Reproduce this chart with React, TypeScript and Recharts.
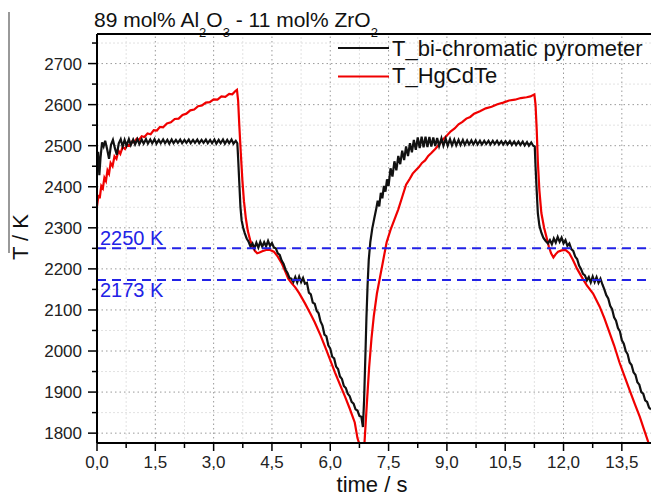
import React from 'react';
import { LineChart, Line, XAxis, YAxis, ReferenceLine, Legend } from 'recharts';

// ---------- axis values ----------
const xDomain: [number, number] = [0, 14.25];
const yDomain: [number, number] = [1776, 2772];
const xMajorTicks = [0, 1.5, 3, 4.5, 6, 7.5, 9, 10.5, 12, 13.5];
const xMinorTicks = [0.75, 2.25, 3.75, 5.25, 6.75, 8.25, 9.75, 11.25, 12.75];
const yMajorTicks = [1800, 1900, 2000, 2100, 2200, 2300, 2400, 2500, 2600, 2700];
const yMinorTicks = [1850, 1950, 2050, 2150, 2250, 2350, 2450, 2550, 2650, 2750];
const markLevels = [2250, 2173];
const markLabels = ['2250 K', '2173 K'];
const seriesNames = ['T_bi-chromatic pyrometer', 'T_HgCdTe'];

// ---------- T_bi-chromatic pyrometer [time s, T K] ----------
const pyroHeat1: [number, number][] = [
  [0.0, 2440], [0.03, 2485], [0.06, 2428], [0.09, 2470], [0.13, 2508], [0.17, 2498], [0.21, 2512], [0.26, 2492],
  [0.31, 2468], [0.36, 2502], [0.41, 2514], [0.46, 2494], [0.51, 2478], [0.56, 2506], [0.61, 2516], [0.66, 2498],
  [0.71, 2514], [0.76, 2500], [0.82, 2516], [0.87, 2502], [0.93, 2515], [0.98, 2503], [1.04, 2516], [1.09, 2504],
  [1.15, 2515], [1.2, 2505], [1.26, 2516], [1.31, 2505], [1.37, 2515], [1.42, 2506], [1.48, 2516], [1.53, 2505],
  [1.59, 2514], [1.64, 2506], [1.7, 2515], [1.75, 2506], [1.81, 2514], [1.86, 2505], [1.92, 2515], [1.97, 2506],
  [2.03, 2514], [2.08, 2507], [2.14, 2515], [2.19, 2506], [2.25, 2514], [2.3, 2507], [2.36, 2515], [2.41, 2506],
  [2.47, 2514], [2.52, 2507], [2.58, 2515], [2.63, 2506], [2.69, 2514], [2.74, 2507], [2.8, 2515], [2.85, 2506],
  [2.91, 2514], [2.96, 2506], [3.02, 2515], [3.07, 2505], [3.13, 2514], [3.18, 2506], [3.24, 2515], [3.29, 2505],
  [3.35, 2514], [3.4, 2506], [3.46, 2515], [3.51, 2505], [3.57, 2512], [3.61, 2506],
];
const pyroCool1: [number, number][] = [
  [3.63, 2470], [3.66, 2410], [3.69, 2350], [3.72, 2318], [3.76, 2300], [3.8, 2287], [3.85, 2274], [3.9, 2266],
  [3.95, 2254], [4.0, 2262], [4.05, 2250], [4.1, 2264], [4.15, 2252], [4.2, 2266], [4.25, 2254], [4.3, 2265],
  [4.35, 2255], [4.4, 2268], [4.45, 2256], [4.5, 2263], [4.55, 2252], [4.6, 2250], [4.65, 2238], [4.7, 2234],
  [4.75, 2220], [4.8, 2212], [4.85, 2198], [4.9, 2190], [4.95, 2178], [5.0, 2176], [5.05, 2168], [5.1, 2180],
  [5.15, 2167], [5.2, 2181], [5.25, 2168], [5.3, 2178], [5.35, 2164], [5.4, 2166], [5.45, 2142], [5.5, 2138],
  [5.55, 2118], [5.6, 2115], [5.65, 2098], [5.7, 2092], [5.75, 2072], [5.8, 2062], [5.85, 2040], [5.9, 2036],
  [5.95, 2014], [6.0, 2006], [6.05, 1986], [6.1, 1982], [6.15, 1962], [6.2, 1956], [6.25, 1938], [6.3, 1932],
  [6.35, 1915], [6.4, 1910], [6.45, 1896], [6.5, 1890], [6.55, 1876], [6.6, 1872], [6.65, 1858], [6.7, 1855],
  [6.75, 1842], [6.8, 1840], [6.84, 1815],
];
const pyroHeat2: [number, number][] = [
  [6.87, 1880], [6.89, 1945], [6.91, 2010], [6.93, 2080], [6.96, 2160], [6.99, 2222], [7.03, 2265], [7.08, 2298],
  [7.13, 2322], [7.18, 2345], [7.22, 2366], [7.26, 2352], [7.3, 2385], [7.34, 2372], [7.38, 2402], [7.42, 2388],
  [7.46, 2418], [7.5, 2402], [7.55, 2445], [7.6, 2425], [7.65, 2462], [7.7, 2440], [7.75, 2475], [7.8, 2455],
  [7.85, 2488], [7.9, 2465], [7.95, 2498], [8.0, 2475], [8.05, 2506], [8.1, 2484], [8.15, 2514], [8.2, 2490],
  [8.25, 2520], [8.3, 2494], [8.35, 2522], [8.4, 2496], [8.45, 2522], [8.5, 2497], [8.55, 2521], [8.6, 2498],
  [8.65, 2520], [8.7, 2499], [8.75, 2519], [8.8, 2499], [8.86, 2518], [8.91, 2500], [8.97, 2517], [9.02, 2500],
  [9.08, 2516], [9.13, 2501], [9.19, 2515], [9.24, 2501], [9.3, 2514], [9.35, 2502], [9.41, 2514], [9.46, 2502],
  [9.52, 2513], [9.57, 2503], [9.63, 2513], [9.68, 2503], [9.74, 2513], [9.79, 2503], [9.85, 2512], [9.9, 2503],
  [9.96, 2512], [10.01, 2504], [10.07, 2512], [10.12, 2503], [10.18, 2512], [10.23, 2504], [10.29, 2512], [10.34, 2503],
  [10.4, 2511], [10.45, 2503], [10.51, 2511], [10.56, 2503], [10.62, 2511], [10.67, 2502], [10.73, 2510], [10.78, 2502],
  [10.84, 2510], [10.89, 2502], [10.95, 2510], [11.0, 2501], [11.06, 2509], [11.11, 2500], [11.17, 2508], [11.22, 2500],
  [11.26, 2498],
];
const pyroCool2: [number, number][] = [
  [11.28, 2450], [11.31, 2390], [11.34, 2335], [11.38, 2305], [11.43, 2288], [11.48, 2276], [11.54, 2268], [11.6, 2262],
  [11.65, 2270], [11.7, 2260], [11.75, 2274], [11.8, 2264], [11.85, 2278], [11.9, 2266], [11.95, 2276], [12.0, 2262],
  [12.05, 2270], [12.1, 2256], [12.15, 2262], [12.2, 2248], [12.25, 2244], [12.3, 2230], [12.35, 2224], [12.4, 2208],
  [12.45, 2200], [12.5, 2188], [12.55, 2184], [12.6, 2172], [12.65, 2180], [12.7, 2167], [12.75, 2181], [12.8, 2168],
  [12.85, 2180], [12.9, 2166], [12.95, 2176], [13.0, 2162], [13.05, 2150], [13.1, 2136], [13.15, 2128], [13.2, 2110],
  [13.25, 2102], [13.3, 2082], [13.35, 2074], [13.4, 2056], [13.45, 2048], [13.5, 2026], [13.55, 2018], [13.6, 2000],
  [13.65, 1992], [13.7, 1972], [13.75, 1966], [13.8, 1948], [13.85, 1942], [13.9, 1924], [13.95, 1918], [14.0, 1900],
  [14.05, 1896], [14.1, 1880], [14.15, 1876], [14.2, 1862], [14.25, 1858],
];

// ---------- T_HgCdTe [time s, T K] ----------
const hgHeat1: [number, number][] = [
  [0.0, 2352], [0.04, 2380], [0.07, 2372], [0.11, 2402], [0.15, 2396], [0.19, 2422], [0.23, 2414], [0.27, 2440],
  [0.31, 2432], [0.35, 2458], [0.4, 2450], [0.45, 2474], [0.5, 2468], [0.55, 2488], [0.6, 2480], [0.66, 2497],
  [0.72, 2492], [0.78, 2503], [0.84, 2500], [0.9, 2510], [0.96, 2508], [1.02, 2517], [1.08, 2514], [1.15, 2523],
  [1.22, 2521], [1.3, 2530], [1.38, 2528], [1.46, 2538], [1.54, 2537], [1.62, 2546], [1.7, 2545], [1.8, 2554],
  [1.9, 2557], [2.0, 2565], [2.1, 2566], [2.2, 2575], [2.3, 2578], [2.4, 2586], [2.5, 2588], [2.6, 2596],
  [2.7, 2598], [2.8, 2605], [2.9, 2606], [3.0, 2613], [3.1, 2612], [3.2, 2620], [3.3, 2619], [3.4, 2626],
  [3.48, 2625], [3.56, 2633], [3.6, 2636],
];
const hgCool1: [number, number][] = [
  [3.63, 2610], [3.66, 2550], [3.7, 2480], [3.74, 2415], [3.78, 2365], [3.83, 2322], [3.88, 2292], [3.94, 2270],
  [4.0, 2254], [4.06, 2244], [4.12, 2238], [4.18, 2240], [4.25, 2243], [4.35, 2246], [4.45, 2246], [4.55, 2242],
  [4.65, 2230], [4.75, 2214], [4.85, 2192], [4.92, 2176], [5.0, 2166], [5.1, 2155], [5.2, 2141], [5.35, 2116],
  [5.5, 2089], [5.6, 2070], [5.75, 2038], [5.86, 2012], [6.0, 1978], [6.12, 1948], [6.25, 1918], [6.38, 1889],
  [6.5, 1860], [6.63, 1826], [6.7, 1788], [6.76, 1770], [6.82, 1755],
];
const hgHeat2: [number, number][] = [
  [6.88, 1776], [6.94, 1870], [7.0, 1960], [7.06, 2030], [7.12, 2085], [7.2, 2140], [7.28, 2180], [7.36, 2220],
  [7.45, 2265], [7.55, 2295], [7.65, 2320], [7.75, 2345], [7.85, 2375], [7.95, 2405], [8.05, 2420], [8.12, 2432],
  [8.2, 2440], [8.28, 2448], [8.36, 2458], [8.44, 2464], [8.52, 2475], [8.6, 2482], [8.7, 2492], [8.8, 2503],
  [8.9, 2515], [9.0, 2525], [9.1, 2535], [9.2, 2542], [9.3, 2552], [9.4, 2558], [9.5, 2566], [9.6, 2570],
  [9.7, 2578], [9.85, 2584], [10.0, 2591], [10.15, 2595], [10.3, 2601], [10.45, 2605], [10.6, 2610], [10.75, 2612],
  [10.9, 2616], [11.05, 2618], [11.15, 2620], [11.25, 2625],
];
const hgCool2: [number, number][] = [
  [11.28, 2600], [11.31, 2540], [11.34, 2460], [11.38, 2390], [11.43, 2336], [11.5, 2300], [11.56, 2278], [11.62, 2255],
  [11.68, 2238], [11.74, 2228], [11.8, 2236], [11.86, 2242], [11.95, 2245], [12.05, 2246], [12.15, 2238], [12.24, 2222],
  [12.35, 2200], [12.5, 2175], [12.6, 2160], [12.76, 2140], [12.93, 2108], [13.05, 2080], [13.19, 2043], [13.3, 2014],
  [13.44, 1972], [13.57, 1938], [13.7, 1905], [13.83, 1872], [13.96, 1840], [14.08, 1806], [14.18, 1778], [14.25, 1760],
];

const toRows = (pts: [number, number][]) => pts.map(([t, k]) => ({ t, k }));
const pyroData = toRows([...pyroHeat1, ...pyroCool1, ...pyroHeat2, ...pyroCool2]);
const hgData = toRows([...hgHeat1, ...hgCool1, ...hgHeat2, ...hgCool2]);

const xAllTicks = [...xMajorTicks, ...xMinorTicks].sort((a, b) => a - b);
const yAllTicks = [...yMajorTicks, ...yMinorTicks].sort((a, b) => a - b);

const FONT = '"Liberation Sans", Arial, Helvetica, sans-serif';
const BLUE = '#2222e6';
const RED = '#f00000';
const BLACK = '#111111';

function XTick(props: any) {
  const { x, y, payload } = props;
  const v = payload.value as number;
  const major = xMajorTicks.includes(v);
  return (
    <g>
      <line x1={x} x2={x} y1={y} y2={y + (major ? 8 : 5)} stroke="#000" strokeWidth={1.5} />
      {major && (
        <text x={x} y={y + 25} textAnchor="middle" fontSize={17} fill="#222" fontFamily={FONT}>
          {v.toFixed(1).replace('.', ',')}
        </text>
      )}
    </g>
  );
}

function YTick(props: any) {
  const { x, y, payload } = props;
  const v = payload.value as number;
  const major = yMajorTicks.includes(v);
  return (
    <g>
      <line x1={x - (major ? 9 : 5)} x2={x} y1={y} y2={y} stroke="#000" strokeWidth={1.5} />
      {major && (
        <text x={x - 15} y={y + 6} textAnchor="end" fontSize={17} fill="#222" fontFamily={FONT}>
          {v}
        </text>
      )}
    </g>
  );
}

function LegendBox() {
  return (
    <svg width={313} height={60} style={{ display: 'block' }}>
      <line x1={0} x2={51} y1={14} y2={14} stroke={BLACK} strokeWidth={2} />
      <text x={54} y={21.5} fontSize={22} fill="#111" fontFamily={FONT}>{seriesNames[0]}</text>
      <line x1={0} x2={51} y1={42.5} y2={42.5} stroke={RED} strokeWidth={2} />
      <text x={54} y={48.5} fontSize={22} fill="#111" fontFamily={FONT}>{seriesNames[1]}</text>
    </svg>
  );
}

export default function App() {
  return (
    <div style={{ position: 'absolute', left: 0, top: 0, width: 651, height: 496, background: '#fff', overflow: 'hidden' }}>
      <LineChart width={651} height={496} margin={{ top: 34, right: 0, bottom: 23, left: 37 }}>
        <XAxis
          type="number"
          dataKey="t"
          domain={xDomain}
          allowDataOverflow
          ticks={xAllTicks}
          interval={0}
          tickSize={0}
          tickMargin={0}
          tickLine={false}
          tick={<XTick />}
          axisLine={{ stroke: '#000', strokeWidth: 2 }}
          height={30}
        />
        <YAxis
          type="number"
          domain={yDomain}
          allowDataOverflow
          ticks={yAllTicks}
          interval={0}
          tickSize={0}
          tickMargin={0}
          tickLine={false}
          tick={<YTick />}
          axisLine={{ stroke: '#000', strokeWidth: 2 }}
          width={60}
        />
        {xMinorTicks.map((v) => (
          <ReferenceLine key={'xm' + v} x={v} stroke="#e2e2e2" strokeWidth={1} strokeDasharray="2 2" />
        ))}
        {yMinorTicks.map((v) => (
          <ReferenceLine key={'ym' + v} y={v} stroke="#e2e2e2" strokeWidth={1} strokeDasharray="2 2" />
        ))}
        {xMajorTicks.filter((v) => v > xDomain[0]).map((v) => (
          <ReferenceLine key={'xM' + v} x={v} stroke="#9a9a9a" strokeWidth={1} strokeDasharray="1.5 3" />
        ))}
        {yMajorTicks.map((v) => (
          <ReferenceLine key={'yM' + v} y={v} stroke="#9a9a9a" strokeWidth={1} strokeDasharray="1.5 3" />
        ))}
        <ReferenceLine y={yDomain[1]} stroke="#000" strokeWidth={2} />
        <Line
          data={hgData}
          dataKey="k"
          type="linear"
          stroke={RED}
          strokeWidth={2.2}
          dot={false}
          isAnimationActive={false}
          name={seriesNames[1]}
        />
        <Line
          data={pyroData}
          dataKey="k"
          type="linear"
          stroke={BLACK}
          strokeWidth={2.2}
          dot={false}
          isAnimationActive={false}
          name={seriesNames[0]}
        />
        <ReferenceLine
          y={markLevels[0]}
          stroke={BLUE}
          strokeWidth={2}
          strokeDasharray="9 6"
          label={{ value: markLabels[0], position: 'insideBottomLeft', offset: 3, fill: BLUE, fontSize: 20, fontFamily: FONT }}
        />
        <ReferenceLine
          y={markLevels[1]}
          stroke={BLUE}
          strokeWidth={2}
          strokeDasharray="9 6"
          label={{ value: markLabels[1], position: 'insideTopLeft', offset: 3, fill: BLUE, fontSize: 20, fontFamily: FONT }}
        />
        <Legend
          layout="vertical"
          align="center"
          verticalAlign="middle"
          content={() => <LegendBox />}
          wrapperStyle={{ position: 'absolute', left: 338, top: 34, width: 313, height: 60 }}
        />
      </LineChart>
      <svg
        width={651}
        height={496}
        style={{ position: 'absolute', left: 0, top: 0, pointerEvents: 'none' }}
      >
        <line x1={9} x2={9} y1={12} y2={253} stroke="#777" strokeWidth={1.5} />
        <text x={94} y={26.5} fontSize={21} fill="#111" fontFamily={FONT}>
          89 mol% Al
          <tspan dy={10} fontSize={13}>2</tspan>
          <tspan dy={-10}>O</tspan>
          <tspan dy={10} fontSize={13}>3</tspan>
          <tspan dy={-10}> - 11 mol% ZrO</tspan>
          <tspan dy={10} fontSize={13}>2</tspan>
        </text>
        <text
          x={28}
          y={237}
          fontSize={22}
          fill="#111"
          fontFamily={FONT}
          textAnchor="middle"
          transform="rotate(-90 28 237)"
        >
          T / K
        </text>
        <text x={372} y={492} fontSize={22} fill="#111" fontFamily={FONT} textAnchor="middle">
          time / s
        </text>
      </svg>
    </div>
  );
}
